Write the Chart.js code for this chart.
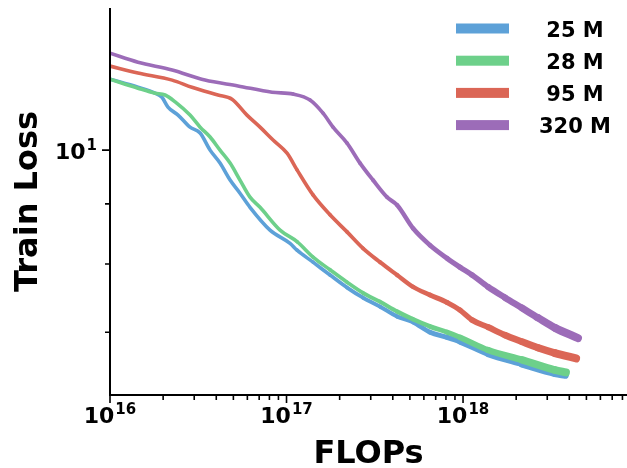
<!DOCTYPE html>
<html>
<head>
<meta charset="utf-8">
<script src="https://cdn.jsdelivr.net/npm/chart.js@4.4.0/dist/chart.umd.min.js"></script>
<style>
  html, body { margin: 0; padding: 0; background: #fff; }
  #wrap { width: 627px; height: 468px; position: relative; }
</style>
</head>
<body>
<div id="wrap"><canvas id="lossChart"></canvas></div>
<script>
// series labels and colours
const seriesLabels = ['25 M', '28 M', '95 M', '320 M']
const seriesColors = ['#5da1d8', '#6dd08a', '#db6656', '#9c6cb8']

// 25 M
const flops25 = [1.00e16, 1.44e16, 1.80e16, 1.97e16, 2.13e16, 2.43e16, 2.84e16, 3.24e16, 3.69e16, 4.20e16, 4.79e16, 5.45e16, 6.21e16, 8.06e16, 1.047e17, 1.147e17, 1.413e17, 1.764e17, 2.202e17, 2.713e17, 3.386e17, 4.23e17, 5.21e17, 6.50e17, 8.12e17, 9.62e17, 1.386e18, 2.16e18, 3.32e18, 3.78e18]
const loss25 = [11.49, 11.31, 11.18, 11.09, 10.88, 10.71, 10.46, 10.34, 10.00, 9.75, 9.43, 9.19, 8.94, 8.55, 8.33, 8.22, 8.03, 7.83, 7.64, 7.49, 7.36, 7.22, 7.14, 7.00, 6.93, 6.87, 6.71, 6.58, 6.46, 6.44]
// 28 M
const flops28 = [1.00e16, 1.44e16, 1.80e16, 2.05e16, 2.34e16, 2.84e16, 3.24e16, 3.69e16, 4.20e16, 4.79e16, 5.45e16, 6.21e16, 7.08e16, 9.19e16, 1.147e17, 1.413e17, 1.764e17, 2.202e17, 2.713e17, 3.386e17, 4.23e17, 5.21e17, 6.50e17, 8.12e17, 9.62e17, 1.386e18, 2.16e18, 3.32e18, 3.83e18]
const loss28 = [11.49, 11.29, 11.18, 11.14, 10.99, 10.71, 10.46, 10.26, 10.00, 9.75, 9.43, 9.12, 8.94, 8.55, 8.36, 8.11, 7.91, 7.72, 7.56, 7.43, 7.29, 7.18, 7.08, 7.00, 6.93, 6.76, 6.63, 6.50, 6.47]
// 95 M
const flops95 = [1.00e16, 1.44e16, 2.25e16, 2.91e16, 4.09e16, 4.91e16, 5.97e16, 7.08e16, 8.39e16, 1.007e17, 1.147e17, 1.413e17, 1.764e17, 2.202e17, 2.713e17, 3.386e17, 4.23e17, 5.21e17, 6.50e17, 8.12e17, 9.62e17, 1.125e18, 1.386e18, 1.73e18, 2.16e18, 2.66e18, 3.32e18, 4.37e18]
const loss95 = [11.79, 11.63, 11.47, 11.31, 11.14, 11.05, 10.71, 10.46, 10.20, 9.94, 9.62, 9.16, 8.81, 8.52, 8.25, 8.03, 7.83, 7.65, 7.53, 7.42, 7.31, 7.17, 7.07, 6.96, 6.87, 6.79, 6.72, 6.65]
// 320 M
const flops320 = [1.00e16, 1.44e16, 2.25e16, 3.45e16, 5.31e16, 8.28e16, 1.089e17, 1.359e17, 1.610e17, 1.834e17, 2.202e17, 2.609e17, 3.09e17, 3.71e17, 4.23e17, 5.21e17, 6.50e17, 8.12e17, 9.62e17, 1.125e18, 1.386e18, 1.73e18, 2.16e18, 2.66e18, 3.32e18, 4.48e18]
const loss320 = [12.09, 11.88, 11.70, 11.47, 11.34, 11.20, 11.16, 11.03, 10.75, 10.46, 10.14, 9.75, 9.43, 9.12, 8.98, 8.58, 8.30, 8.09, 7.95, 7.83, 7.65, 7.49, 7.34, 7.20, 7.06, 6.92]

// axes
const xMin = 1e16
const xMax = 8.49e18
const yMin = 6.19
const yMax = 13.21
const xMajorTicks = [1e16, 1e17, 1e18]
const xMajorExps = ['16', '17', '18']
const xMinorMults = [2, 3, 4, 5, 6, 7, 8, 9]
const yMajorTicks = [10]
const yMajorExps = ['1']
const yMinorTicks = [7, 8, 9]

const FONT = '"DejaVu Sans", sans-serif'

const xs = [flops25, flops28, flops95, flops320]
const ys = [loss25, loss28, loss95, loss320]

const toPoints = (fx, ly) => fx.map((v, i) => ({ x: v, y: ly[i] }))

// line gets thicker as the noise band widens
const widthAt = (ctx) => {
    const lx = Math.log10(ctx.p1.parsed.x)
    const t = Math.min(1, Math.max(0, (lx - 17.1) / 1.5))
    return 3.6 + 4.4 * t * t
}

const datasets = seriesLabels.map((label, i) => ({
    label: label,
    data: toPoints(xs[i], ys[i]),
    borderColor: seriesColors[i],
    backgroundColor: seriesColors[i],
    borderWidth: 3.6,
    borderCapStyle: 'round',
    borderJoinStyle: 'round',
    pointRadius: 0,
    cubicInterpolationMode: 'monotone',
    order: seriesLabels.length - i,
    segment: { borderWidth: widthAt }
}))

function drawPow(ctx, exp, x, y, align) {
    ctx.font = 'bold 22px ' + FONT
    const w1 = ctx.measureText('10').width
    ctx.font = 'bold 15px ' + FONT
    const w2 = ctx.measureText(exp).width
    let start = x - (w1 + w2 + 1) / 2
    if (align === 'right') start = x - (w1 + w2 + 1)
    ctx.textAlign = 'left'
    ctx.textBaseline = 'alphabetic'
    ctx.font = 'bold 22px ' + FONT
    ctx.fillText('10', start, y)
    ctx.font = 'bold 15px ' + FONT
    ctx.fillText(exp, start + w1 + 1, y - 9)
}

const decorPlugin = {
    id: 'decor',
    afterDraw(chart) {
        const { ctx, chartArea: a, scales: { x, y } } = chart
        ctx.save()
        ctx.strokeStyle = '#000'
        ctx.fillStyle = '#000'
        // axis lines
        ctx.lineWidth = 2
        ctx.lineCap = 'butt'
        ctx.beginPath()
        ctx.moveTo(a.left, a.top)
        ctx.lineTo(a.left, a.bottom)
        ctx.lineTo(a.right, a.bottom)
        ctx.stroke()
        // tick marks
        ctx.lineWidth = 1.6
        ctx.beginPath()
        xMajorTicks.forEach((v) => {
            const px = x.getPixelForValue(v)
            ctx.moveTo(px, a.bottom); ctx.lineTo(px, a.bottom + 8)
            xMinorMults.forEach((m) => {
                const mv = v * m
                if (mv > xMax) return
                const mp = x.getPixelForValue(mv)
                ctx.moveTo(mp, a.bottom); ctx.lineTo(mp, a.bottom + 5)
            })
        })
        yMajorTicks.forEach((v) => {
            const py = y.getPixelForValue(v)
            ctx.moveTo(a.left, py); ctx.lineTo(a.left - 8, py)
        })
        yMinorTicks.forEach((v) => {
            const py = y.getPixelForValue(v)
            ctx.moveTo(a.left, py); ctx.lineTo(a.left - 5, py)
        })
        ctx.stroke()
        // tick labels
        xMajorTicks.forEach((v, i) => {
            drawPow(ctx, xMajorExps[i], x.getPixelForValue(v), a.bottom + 28, 'center')
        })
        yMajorTicks.forEach((v, i) => {
            drawPow(ctx, yMajorExps[i], a.left - 13, y.getPixelForValue(v) + 9, 'right')
        })
        // axis titles
        ctx.font = 'bold 32px ' + FONT
        ctx.textAlign = 'center'
        ctx.textBaseline = 'alphabetic'
        ctx.fillText('FLOPs', (a.left + a.right) / 2, 463)
        ctx.save()
        ctx.translate(37, (a.top + a.bottom) / 2)
        ctx.rotate(-Math.PI / 2)
        ctx.fillText('Train Loss', 0, 0)
        ctx.restore()
        // legend
        chart.data.datasets.forEach((ds, i) => {
            const cy = 28.5 + i * 32.2
            ctx.fillStyle = ds.borderColor
            ctx.fillRect(456, cy - 5, 53, 10)
            ctx.fillStyle = '#000'
            ctx.font = 'bold 21px ' + FONT
            ctx.textAlign = 'center'
            ctx.fillText(ds.label, 575, cy + 8)
        })
        ctx.restore()
    }
}

const lossChart = new Chart(document.getElementById('lossChart'), {
    type: 'line',
    data: { datasets: datasets },
    options: {
        responsive: true,
        maintainAspectRatio: false,
        animation: false,
        layout: { padding: { left: 110, right: 0, top: 8, bottom: 73 } },
        plugins: { legend: { display: false }, tooltip: { enabled: false } },
        scales: {
            x: { type: 'logarithmic', display: false, min: xMin, max: xMax, bounds: 'data' },
            y: { type: 'logarithmic', display: false, min: yMin, max: yMax, bounds: 'data' }
        }
    },
    plugins: [decorPlugin]
})
</script>
</body>
</html>
